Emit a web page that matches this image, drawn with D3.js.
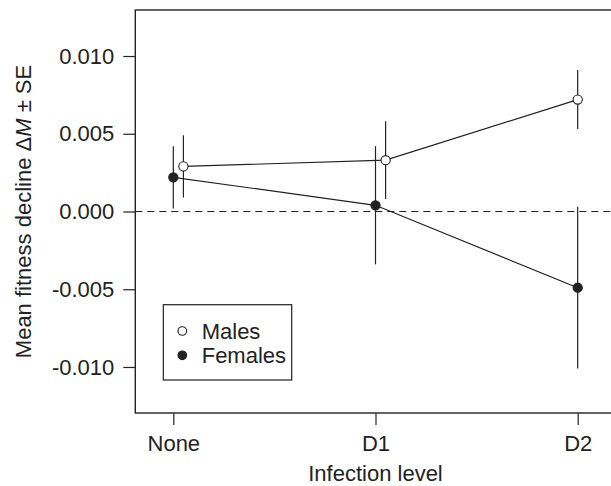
<!DOCTYPE html>
<html>
<head>
<meta charset="utf-8">
<script src="https://cdn.jsdelivr.net/npm/d3@7"></script>
<style>
  html, body { margin: 0; padding: 0; background: #fff; }
  svg { display: block; }
  text { font-family: "Liberation Sans", Arial, Helvetica, sans-serif; fill: #222; }
</style>
</head>
<body>
<svg id="chart" width="611" height="486"></svg>
<script>
// ---- data ----
const categories = ["None", "D1", "D2"];
const yTicks = [-0.010, -0.005, 0.000, 0.005, 0.010];

const maleMean  = [0.0029, 0.0033, 0.0072];
const maleLow   = [0.0009, 0.0008, 0.0053];
const maleHigh  = [0.0049, 0.0058, 0.0091];

const femaleMean = [0.0022, 0.0004, -0.0049];
const femaleLow  = [0.0002, -0.0034, -0.0101];
const femaleHigh = [0.0042, 0.0042, 0.0003];

// horizontal dodge of the male series (in category units)
const maleDodge = [0.05, 0.05, 0.0];

// ---- layout ----
const svg = d3.select("#chart");
const plot = { left: 135.3, right: 615.7, top: 10, bottom: 413 };
const FONT = 22;
const INK = "#222";

const x = d3.scaleLinear().domain([0.812, 3.188]).range([plot.left, plot.right]);
const y = d3.scaleLinear().domain([-0.01296, 0.01296]).range([plot.bottom, plot.top]);

const fmt = v => d3.format(".3f")(v).replace("\u2212", "-");

// zero reference line
svg.append("line")
  .attr("x1", plot.left).attr("x2", plot.right)
  .attr("y1", y(0)).attr("y2", y(0))
  .attr("stroke", INK).attr("stroke-width", 1.2)
  .attr("stroke-dasharray", "7,5");

// axes
const yAxis = d3.axisLeft(y).tickValues(yTicks).tickFormat(fmt).tickSize(12).tickPadding(9);
const gy = svg.append("g").attr("transform", `translate(${plot.left},0)`).call(yAxis);
gy.select(".domain").remove();
gy.selectAll(".tick line").attr("stroke", INK).attr("stroke-width", 1.2);
gy.selectAll(".tick text").attr("font-size", FONT).attr("fill", INK)
  .attr("font-family", "Liberation Sans, Arial, sans-serif");

const xAxis = d3.axisBottom(x).tickValues([1, 2, 3]).tickFormat((d, i) => categories[i]).tickSize(12).tickPadding(10);
const gx = svg.append("g").attr("transform", `translate(0,${plot.bottom})`).call(xAxis);
gx.select(".domain").remove();
gx.selectAll(".tick line").attr("stroke", INK).attr("stroke-width", 1.2);
gx.selectAll(".tick text").attr("font-size", FONT).attr("fill", INK)
  .attr("font-family", "Liberation Sans, Arial, sans-serif");

// plot box
svg.append("rect")
  .attr("x", plot.left).attr("y", plot.top)
  .attr("width", plot.right - plot.left).attr("height", plot.bottom - plot.top)
  .attr("fill", "none").attr("stroke", INK).attr("stroke-width", 1.4);

// axis titles
svg.append("text")
  .attr("x", x(2)).attr("y", 481)
  .attr("text-anchor", "middle").attr("font-size", FONT)
  .text("Infection level");

const yt = svg.append("text")
  .attr("transform", `translate(31,${(plot.top + plot.bottom) / 2}) rotate(-90)`)
  .attr("text-anchor", "middle").attr("font-size", FONT);
yt.append("tspan").text("Mean fitness decline \u0394");
yt.append("tspan").attr("font-style", "italic").text("M");
yt.append("tspan").text(" \u00B1 SE");

// series
const series = [
  { name: "Males",   mean: maleMean,   low: maleLow,   high: maleHigh,   dodge: maleDodge, fill: "#fff" },
  { name: "Females", mean: femaleMean, low: femaleLow, high: femaleHigh, dodge: [0, 0, 0], fill: INK }
];

const line = d3.line().x(d => x(d.x)).y(d => y(d.v));

series.forEach(s => {
  const pts = categories.map((c, i) => ({ x: i + 1 + s.dodge[i], v: s.mean[i], lo: s.low[i], hi: s.high[i] }));
  s.pts = pts;
  svg.append("g").selectAll("line").data(pts).join("line")
    .attr("x1", d => x(d.x)).attr("x2", d => x(d.x))
    .attr("y1", d => y(d.lo)).attr("y2", d => y(d.hi))
    .attr("stroke", INK).attr("stroke-width", 1.2);
  svg.append("path").datum(pts).attr("d", line)
    .attr("fill", "none").attr("stroke", INK).attr("stroke-width", 1.2);
});
series.forEach(s => {
  svg.append("g").selectAll("circle").data(s.pts).join("circle")
    .attr("cx", d => x(d.x)).attr("cy", d => y(d.v)).attr("r", 4.6)
    .attr("fill", s.fill).attr("stroke", INK).attr("stroke-width", 1.1);
});

// legend
const lg = svg.append("g");
lg.append("rect").attr("x", 163.3).attr("y", 304.7).attr("width", 128.4).attr("height", 75.3)
  .attr("fill", "#fff").attr("stroke", INK).attr("stroke-width", 1.2);
series.forEach((s, i) => {
  const cy = 331 + i * 24.3;
  lg.append("circle").attr("cx", 182.3).attr("cy", cy).attr("r", 4.3)
    .attr("fill", s.fill).attr("stroke", INK).attr("stroke-width", 1.1);
  lg.append("text").attr("x", 201.7).attr("y", cy).attr("dy", "0.36em")
    .attr("font-size", FONT).text(s.name);
});
</script>
</body>
</html>
